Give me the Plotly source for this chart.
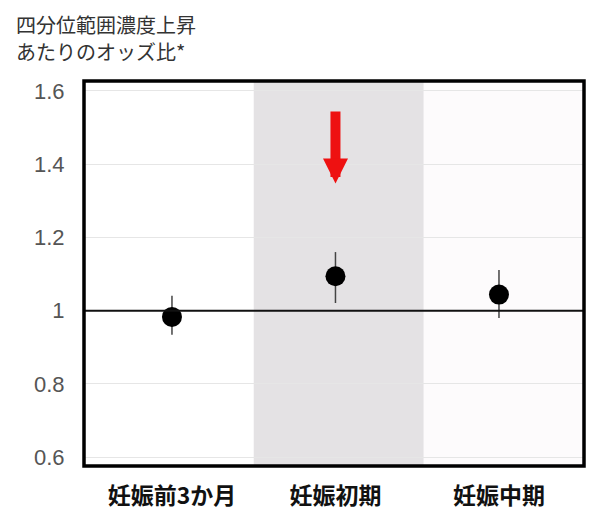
import plotly.graph_objects as go

# データ
periods = ["妊娠前3か月", "妊娠初期", "妊娠中期"]
odds_ratio = [0.983, 1.094, 1.044]
ci_lower = [0.934, 1.021, 0.980]
ci_upper = [1.041, 1.160, 1.111]
y_ticks = [0.6, 0.8, 1.0, 1.2, 1.4, 1.6]
y_tick_labels = ["0.6", "0.8", "1", "1.2", "1.4", "1.6"]
title_lines = ["四分位範囲濃度上昇", "あたりのオッズ比*"]

W, H = 600, 527

x_pos = list(range(len(periods)))
err_plus = [hi - v for hi, v in zip(ci_upper, odds_ratio)]
err_minus = [v - lo for lo, v in zip(ci_lower, odds_ratio)]

fig = go.Figure(go.Scatter(
    x=x_pos,
    y=odds_ratio,
    mode="markers",
    marker=dict(size=20, color="#000000"),
    error_y=dict(
        type="data",
        array=err_plus,
        arrayminus=err_minus,
        width=0,
        thickness=1.5,
        color="#444444",
    ),
    showlegend=False,
    hoverinfo="skip",
))

# 妊娠初期の背景（グレー）
fig.add_shape(type="rect", xref="x", yref="paper", x0=0.5, x1=1.54, y0=0, y1=1,
              fillcolor="#e4e2e4", line_width=0, layer="below")
# 妊娠中期の背景（ごく薄いピンク）
fig.add_shape(type="rect", xref="x", yref="paper", x0=1.54, x1=2.52, y0=0, y1=1,
              fillcolor="#fdfbfc", line_width=0, layer="below")

# 基準線 OR = 1
fig.add_hline(y=1, line=dict(color="#111111", width=2))

# 枠線
fig.add_shape(type="rect", xref="paper", yref="paper", x0=0, x1=1, y0=0, y1=1,
              line=dict(color="#000000", width=3.5), fillcolor="rgba(0,0,0,0)",
              layer="above")

# 赤い矢印
fig.add_annotation(
    x=1, y=1.347, ax=1, ay=1.548,
    xref="x", yref="y", axref="x", ayref="y",
    text="", showarrow=True,
    arrowhead=2, arrowwidth=10, arrowsize=0.5,
    arrowcolor="#ee1111",
)

# タイトル（2行）
for i, line in enumerate(title_lines):
    fig.add_annotation(
        text=line,
        xref="paper", yref="paper",
        x=-(84 - 14) / 500, y=1 + (81 - 24 - 27.5 * i) / 385,
        xanchor="left", yanchor="middle",
        showarrow=False,
        font=dict(family="Noto Sans CJK JP", size=20, color="#333333"),
    )

fig.update_layout(
    width=W,
    height=H,
    margin=dict(l=84, r=16, t=81, b=61),
    paper_bgcolor="#ffffff",
    plot_bgcolor="#ffffff",
)

fig.update_xaxes(
    range=[-0.538, 2.52],
    tickvals=x_pos,
    ticktext=[f"<b>{p}</b>" for p in periods],
    tickfont=dict(family="Noto Sans CJK JP", size=23, color="#111111"),
    ticks="outside", ticklen=9, tickcolor="rgba(0,0,0,0)",
    showgrid=False,
    zeroline=False,
    showline=False,
)

fig.update_yaxes(
    range=[0.576, 1.627],
    tickvals=y_ticks,
    ticktext=y_tick_labels,
    tickfont=dict(family="Liberation Sans", size=22, color="#555555"),
    ticks="outside", ticklen=14, tickcolor="rgba(0,0,0,0)",
    showgrid=True, gridcolor="#e6e6e6", gridwidth=1,
    zeroline=False,
    showline=False,
)

fig.write_html("out.html", config={"displayModeBar": False},
               post_script="document.body.style.margin='0';")
